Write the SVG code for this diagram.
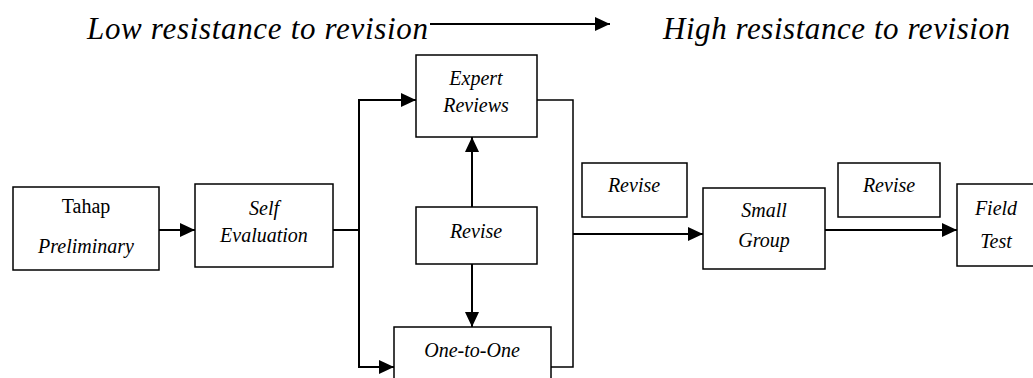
<svg xmlns="http://www.w3.org/2000/svg" width="1033" height="378" viewBox="0 0 1033 378">
<style>
.box{fill:#fff;stroke:#000;stroke-width:1.5}
.t{font-family:"Liberation Serif","DejaVu Serif","Times New Roman",serif;font-size:20px;font-style:italic;text-anchor:middle;fill:#000}
.r{font-style:normal}
.h{font-family:"Liberation Serif","DejaVu Serif","Times New Roman",serif;font-size:31px;font-style:italic;fill:#000}
.c{fill:none;stroke:#000;stroke-width:2}
.c1{fill:none;stroke:#000;stroke-width:1.5}
</style>
<defs>
<marker id="ah" markerWidth="15" markerHeight="14" refX="15" refY="7" orient="auto" markerUnits="userSpaceOnUse">
<path d="M0,0 L15,7 L0,14 Z" fill="#000"/>
</marker>
</defs>
<g id="header">
<text class="h" x="87" y="39" textLength="341" lengthAdjust="spacing">Low resistance to revision</text>
<text class="h" x="663" y="39" textLength="347" lengthAdjust="spacing">High resistance to revision</text>
</g>
<g id="connectors">
<line class="c" x1="430" y1="24" x2="610" y2="24" marker-end="url(#ah)"/>
<line class="c" x1="159" y1="230" x2="195" y2="230" marker-end="url(#ah)"/>
<polyline class="c" points="333,230 359,230"/>
<line class="c" x1="359" y1="99" x2="359" y2="368"/>
<line class="c" x1="358" y1="100" x2="416" y2="100" marker-end="url(#ah)"/>
<line class="c" x1="358" y1="367" x2="394" y2="367" marker-end="url(#ah)"/>
<line class="c" x1="472" y1="207" x2="472" y2="137" marker-end="url(#ah)"/>
<line class="c" x1="472" y1="264" x2="472" y2="327" marker-end="url(#ah)"/>
<polyline class="c1" points="537,100 573,100 573,367 551,367"/>
<line class="c" x1="573" y1="234" x2="703" y2="234" marker-end="url(#ah)"/>
<line class="c" x1="825" y1="230" x2="957" y2="230" marker-end="url(#ah)"/>
</g>
<g id="preliminary">
<rect class="box" x="13" y="187" width="146" height="83"/>
<text class="t r" x="86" y="213">Tahap</text>
<text class="t" x="86" y="253">Preliminary</text>
</g>
<g id="self-evaluation">
<rect class="box" x="195" y="184" width="138" height="83"/>
<text class="t" x="264" y="215">Self</text>
<text class="t" x="264" y="242">Evaluation</text>
</g>
<g id="expert-reviews">
<rect class="box" x="416" y="55" width="121" height="82"/>
<text class="t" x="476" y="85">Expert</text>
<text class="t" x="476" y="112">Reviews</text>
</g>
<g id="revise-middle">
<rect class="box" x="416" y="207" width="121" height="57"/>
<text class="t" x="476" y="238">Revise</text>
</g>
<g id="one-to-one">
<rect class="box" x="394" y="327" width="157" height="60"/>
<text class="t" x="472" y="357">One-to-One</text>
</g>
<g id="revise-1">
<rect class="box" x="582" y="163" width="105" height="54"/>
<text class="t" x="634" y="192">Revise</text>
</g>
<g id="small-group">
<rect class="box" x="703" y="188" width="122" height="81"/>
<text class="t" x="764" y="217">Small</text>
<text class="t" x="764" y="247">Group</text>
</g>
<g id="revise-2">
<rect class="box" x="838" y="163" width="102" height="54"/>
<text class="t" x="889" y="192">Revise</text>
</g>
<g id="field-test">
<rect class="box" x="957" y="184" width="90" height="82"/>
<text class="t" x="996" y="215">Field</text>
<text class="t" x="996" y="248">Test</text>
</g>
</svg>
